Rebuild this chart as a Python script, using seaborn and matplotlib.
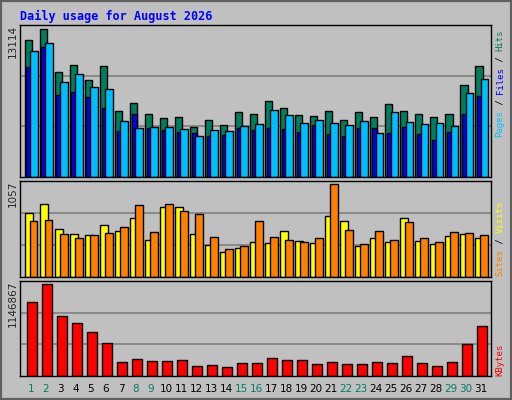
import matplotlib
matplotlib.use("Agg")
import matplotlib.pyplot as plt
import seaborn as sns
import numpy as np

days = [str(d) for d in range(1, 32)]
weekend_days = [1, 2, 8, 9, 15, 16, 22, 23, 29, 30]

hits = [11812, 12767, 9032, 9640, 8338, 9554, 5732, 6427, 5472, 5124, 5211, 4343, 4950, 4516, 5645, 5472,
        6514, 5993, 5385, 5298, 5732, 4950, 5645, 5211, 6340, 5732, 5472, 5211, 5472, 7903, 9554]
files = [10856, 11551, 8164, 8859, 7730, 7556, 4864, 4256, 4343, 4343, 4169, 3561, 4082, 3995, 4429, 4603,
         5819, 5385, 4690, 4950, 4690, 4516, 4864, 3821, 5645, 4777, 4603, 4690, 4429, 7209, 8424]
pages = [9467, 11204, 7035, 7295, 6861, 5993, 3995, 5472, 4256, 4082, 3908, 3821, 3561, 3648, 4256, 4082,
         4256, 4169, 3908, 4516, 3735, 3561, 4256, 4256, 3821, 4343, 3735, 3213, 3908, 5472, 6948]
visits = [700, 799, 523, 468, 457, 578, 501, 645, 412, 766, 766, 468, 357, 280, 324, 390,
          379, 501, 401, 379, 667, 622, 346, 424, 390, 645, 401, 368, 446, 468, 424]
sites = [622, 633, 468, 424, 457, 479, 556, 788, 490, 799, 722, 689, 435, 313, 346, 622,
         435, 412, 390, 424, 1020, 512, 368, 501, 412, 611, 424, 390, 490, 479, 457]
kbytes = [888000, 1106000, 719000, 634000, 537000, 404000, 174000, 210000, 186000, 186000, 198000, 125000,
          137000, 113000, 162000, 162000, 222000, 198000, 198000, 149000, 174000, 149000, 149000, 174000,
          162000, 246000, 162000, 125000, 174000, 392000, 598000]
max_hits, max_visits, max_kb = 13114, 1057, 1146867

sns.set_style("white")
BG = "#c0c0c0"
W, H = 512, 400
fig = plt.figure(figsize=(W / 100, H / 100), dpi=100, facecolor=BG)
x = np.arange(31)


def panel(top, bottom, ymax):
    ax = fig.add_axes([20 / W, 1 - bottom / H, 471 / W, (bottom - top) / H], facecolor=BG)
    ax.set_xlim(-0.73, 30.65)
    ax.set_ylim(0, ymax)
    for f in (1 / 3, 2 / 3):
        ax.axhline(ymax * f, color="#808080", lw=1.2, zorder=0)
    ax.set_xticks([])
    ax.set_yticks([])
    for s in ax.spines.values():
        s.set_color("black")
        s.set_linewidth(1)
    return ax


kw = dict(edgecolor="black", linewidth=1, zorder=2)
ax1 = panel(25, 177, max_hits)
ax1.bar(x - 0.15, hits, 0.47, color="#007f5f", **kw)
ax1.bar(x - 0.12, pages, 0.36, color="#0000ff", **kw)
ax1.bar(x + 0.2, files, 0.49, color="#00bfff", **kw)

ax2 = panel(181, 277, max_visits)
ax2.bar(x - 0.13, visits, 0.56, color="#ffff00", **kw)
ax2.bar(x + 0.18, sites, 0.51, color="#ff8000", **kw)

ax3 = panel(281, 376, max_kb)
ax3.bar(x + 0.07, kbytes, 0.67, color="#ff0000", **kw)

fig.text(20 / W, 1 - 16 / H, "Daily usage for August 2026", color="#0000ff", family="DejaVu Sans Mono",
         weight="bold", fontsize=8.5, va="center")
for lab, ytop in ((str(max_hits), 25), (str(max_visits), 181), (str(max_kb), 281)):
    fig.text(18 / W, 1 - ytop / H, lab, rotation=90, ha="right", va="top", fontsize=7.5)

# right-side multicolour legends, drawn bottom to top
def vlegend(ybottom, parts):
    y = ybottom
    for txt, col in parts:
        fig.text(500 / W, 1 - y / H, txt, rotation=90, ha="center", va="bottom", color=col,
                 family="DejaVu Sans Mono", fontsize=6.5)
        y -= len(txt) * 5.4


vlegend(137, [("Pages", "#00bfff"), (" / ", "black"), ("Files", "#0000ff"), (" / ", "black"), ("Hits", "#007f5f")])
vlegend(276, [("Sites", "#ff8000"), (" / ", "black"), ("Visits", "#ffff00")])
vlegend(376, [("KBytes", "#ff0000")])

for i, d in enumerate(days):
    col = "#007f5f" if int(d) in weekend_days else "black"
    fig.text((20 + (i + 0.73) * 15) / W, 1 - 389 / H, d, ha="center", va="center", fontsize=7.5, color=col)

fig.patches.append(plt.Rectangle((0, 0), 1, 1, transform=fig.transFigure, fill=False,
                                 edgecolor="#606060", linewidth=3))
fig.savefig("out.png", dpi=100, facecolor=BG)
